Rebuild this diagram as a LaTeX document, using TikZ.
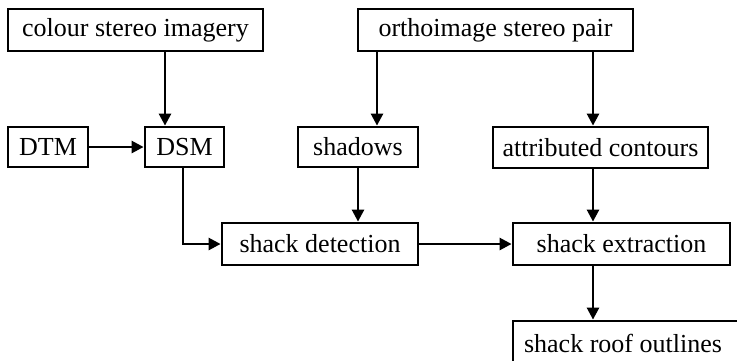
\documentclass[tikz,border=0pt]{standalone}
\usepackage{fontspec}
\setmainfont{Liberation Serif}
\usetikzlibrary{arrows.meta}
\begin{document}
\begin{tikzpicture}[x=1pt,y=-1pt,
  box/.style={draw, line width=2.8pt, inner sep=0pt, font=\fontsize{26}{30}\selectfont, anchor=center},
  flow/.style={line width=2.6pt, -{Triangle[length=12pt,width=12pt]}}]
\useasboundingbox (0,0) rectangle (737,360);
% input and intermediate boxes
\node[box, minimum width=255pt, minimum height=42pt] (csi) at (135.5,30) {colour stereo imagery};
\node[box, minimum width=275pt, minimum height=42pt] (osp) at (495.5,30) {orthoimage stereo pair};
\node[box, minimum width=80pt, minimum height=40pt] (dtm) at (48,147) {DTM};
\node[box, minimum width=79pt, minimum height=40pt] (dsm) at (184.5,147) {DSM};
\node[box, minimum width=120pt, minimum height=40pt] (sha) at (358,147) {shadows};
\node[box, minimum width=215pt, minimum height=41pt] (att) at (600.5,147.5) {attributed contours};
\node[box, minimum width=196pt, minimum height=42pt] (det) at (320,244) {shack detection};
\node[box, minimum width=217pt, minimum height=42pt] (ext) at (621.5,244) {shack extraction};
\node[box, minimum width=240pt, minimum height=44pt] (roof) at (633,343) {\hspace*{-20pt}shack roof outlines};
% connectors
\draw[flow] (csi.south -| 165,0) -- (dsm.north -| 165,0);
\draw[flow] (dtm) -- (dsm);
\draw[flow] (osp.south -| 377,0) -- (sha.north -| 377,0);
\draw[flow] (osp.south -| 593,0) -- (att.north -| 593,0);
\draw[flow] (dsm.south -| 183,0) |- (det.west);
\draw[flow] (sha) -- (det.north -| sha);
\draw[flow] (det) -- (ext);
\draw[flow] (att.south -| 593,0) -- (ext.north -| 593,0);
\draw[flow] (ext.south -| 593,0) -- (roof.north -| 593,0);
\end{tikzpicture}
\end{document}
